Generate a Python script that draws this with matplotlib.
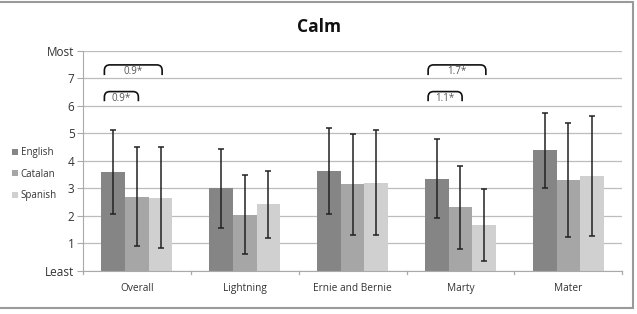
import matplotlib
matplotlib.use("Agg")
import matplotlib.pyplot as plt
import numpy as np
from matplotlib.path import Path
from matplotlib.patches import PathPatch, Rectangle

categories = ["Overall", "Lightning", "Ernie and Bernie", "Marty", "Mater"]
series_names = ["English", "Catalan", "Spanish"]
english = [3.60, 3.01, 3.64, 3.36, 4.38]
catalan = [2.70, 2.05, 3.15, 2.31, 3.31]
spanish = [2.67, 2.43, 3.21, 1.67, 3.46]
english_err = [1.53, 1.44, 1.57, 1.42, 1.35]
catalan_err = [1.80, 1.43, 1.83, 1.50, 2.08]
spanish_err = [1.83, 1.22, 1.90, 1.31, 2.19]
ytick_labels = ["Least", "1", "2", "3", "4", "5", "6", "7", "Most"]
# significance brackets: (category index, from series, to series, label)
brackets = [(0, 0, 1, "0.9*"), (0, 0, 2, "0.9*"), (3, 0, 1, "1.1*"), (3, 0, 2, "1.7*")]

colors = ["#858585", "#a6a6a6", "#d0d0d0"]

plt.rcParams['font.family'] = ['Open Sans', 'DejaVu Sans']

fig = plt.figure(figsize=(6.37, 3.14), dpi=100)
ax = fig.add_axes([0.130, 0.137, 0.847, 0.701])

x = np.arange(len(categories))
w = 0.22
vals = [english, catalan, spanish]
errs = [english_err, catalan_err, spanish_err]
handles = []
for i, (v, e, c, n) in enumerate(zip(vals, errs, colors, series_names)):
    xs = x + (i - 1) * w
    b = ax.bar(xs, v, width=w, color=c, label=n, zorder=2)
    handles.append(b)
    ax.errorbar(xs, v, yerr=e, fmt='none', ecolor='#222222', elinewidth=1.1,
                capsize=2.5, capthick=1.1, zorder=3)

ax.set_xlim(-0.5, len(categories) - 0.5)
ax.set_ylim(0, 8)
ax.set_yticks(range(9))
ax.set_yticklabels(ytick_labels, fontsize=8.5, color='#333333')
ax.set_xticks(x)
ax.set_xticklabels(categories, fontsize=7.3, color='#333333')
ax.tick_params(axis='x', length=0, pad=9)
ax.tick_params(axis='y', length=4, color='#aaaaaa', pad=2)
# category boundary ticks
for b_ in np.arange(-0.5, len(categories) + 0.5, 1.0):
    ax.plot([b_, b_], [0, -0.12], color='#aaaaaa', lw=0.9, clip_on=False, zorder=1)
ax.yaxis.grid(True, color='#bdbdbd', lw=0.9, zorder=0)
ax.set_axisbelow(True)
for s in ['top', 'right']:
    ax.spines[s].set_visible(False)
ax.spines['left'].set_color('#aaaaaa')
ax.spines['bottom'].set_color('#aaaaaa')

# brackets
def bracket(x0, x1, ytop, ybot, label):
    r = 0.05
    ry = 0.2
    verts = [(x0, ybot), (x0, ytop - ry), (x0, ytop), (x0 + r, ytop),
             (x1 - r, ytop), (x1, ytop), (x1, ytop - ry), (x1, ybot)]
    codes = [Path.MOVETO, Path.LINETO, Path.CURVE3, Path.CURVE3,
             Path.LINETO, Path.CURVE3, Path.CURVE3, Path.LINETO]
    ax.add_patch(PathPatch(Path(verts, codes), fill=False, lw=1.2,
                           edgecolor='#111111', zorder=4))
    ax.text((x0 + x1) / 2, ytop - 0.24, label, ha='center', va='center',
            fontsize=7, color='#555555', zorder=4)

for ci, s0, s1, lab in brackets:
    x0 = ci + (s0 - 1) * w - 0.08
    x1 = ci + (s1 - 1) * w + 0.015
    if s1 == 1:
        bracket(x0, x1, 6.52, 6.17, lab)
    else:
        bracket(x0, x1, 7.49, 7.12, lab)

fig.text(0.5, 0.915, "Calm", ha='center', va='center', fontsize=12.5,
         fontweight='bold', color='#111111')

leg = fig.legend(handles=handles, labels=series_names, loc='center left',
                 bbox_to_anchor=(0.005, 0.445), frameon=False, fontsize=7,
                 handlelength=0.6, handleheight=0.6, handletextpad=0.3,
                 labelspacing=1.1)
for t in leg.get_texts():
    t.set_color('#333333')

# outer frame
fig.patches.append(Rectangle((-0.01, 0.018), 1.004, 0.975, transform=fig.transFigure,
                             fill=False, edgecolor='#9a9a9a', lw=1.5))

fig.savefig("out.png", dpi=100)
